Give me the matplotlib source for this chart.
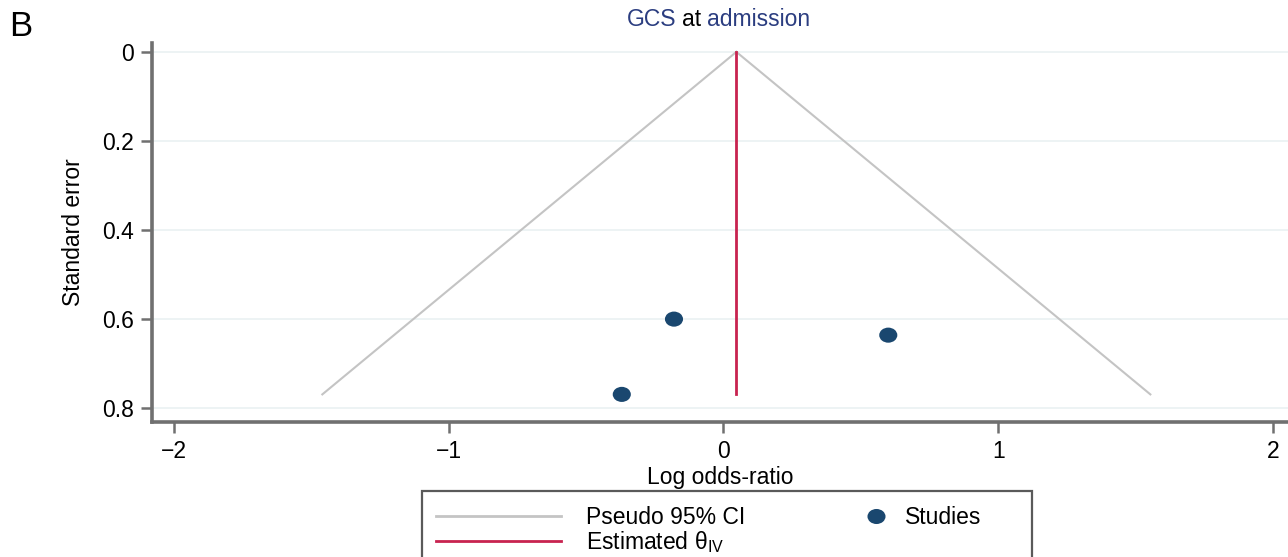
import matplotlib
matplotlib.use("Agg")
import matplotlib.pyplot as plt
from matplotlib.path import Path
from matplotlib.transforms import Affine2D
from matplotlib.lines import Line2D
from matplotlib.patches import Rectangle
from matplotlib.legend_handler import HandlerLine2D

plt.rcParams['font.family'] = ['Liberation Sans', 'DejaVu Sans']

# studies (log odds-ratio, standard error)
study_lor = [-0.18, 0.60, -0.37]
study_se = [0.600, 0.636, 0.769]

# pooled estimate and pseudo 95% CI funnel
theta_iv = 0.047
se_max = 0.769
ci_left = [-1.46, 0.047]
ci_right = [1.554, 0.047]
ci_se = [0.769, 0.0]

xticks = [-2, -1, 0, 1, 2]
yticks = [0, 0.2, 0.4, 0.6, 0.8]

navy = '#1a476f'
red = '#c8234f'
gray = '#c4c4c4'
spine = '#707070'
fs = 16.5


class RightMarkerHandler(HandlerLine2D):
    # put the marker near the right end of the handle, next to its label
    def get_xdata(self, legend, xdescent, ydescent, width, height, fontsize):
        xm = -xdescent + width - 0.18 * fontsize
        return [xm, xm], [xm]


fig = plt.figure(figsize=(12.88, 5.57), dpi=100)
ax = fig.add_axes([152/1288, 1 - 422/557, (1288 - 152)/1288, (422 - 43)/557])

for y in yticks:
    ax.axhline(y, color='#eaf1f2', lw=1.2, zorder=0)

ax.plot(ci_left, ci_se, color=gray, lw=1.5, zorder=2)
ax.plot(ci_right, ci_se, color=gray, lw=1.5, zorder=2)
ax.plot([theta_iv, theta_iv], [0, se_max], color=red, lw=2, zorder=3)

ellipse = Path.unit_circle().transformed(Affine2D().scale(1.2, 1.0))
ax.scatter(study_lor, study_se, marker=ellipse, s=170, color=navy,
           edgecolors='none', zorder=4)

ax.set_xlim(-2.08, 2.055)
ax.set_ylim(0.831, -0.02)
ax.set_xticks(xticks)
ax.set_yticks(yticks)
ax.set_xticklabels(['\u22122', '\u22121', '0', '1', '2'])
ax.set_yticklabels(['0', '0.2', '0.4', '0.6', '0.8'])

for s in ['top', 'right']:
    ax.spines[s].set_visible(False)
for s in ['left', 'bottom']:
    ax.spines[s].set_color(spine)
    ax.spines[s].set_linewidth(2.6)
ax.tick_params(axis='both', length=8, width=1.8, color=spine,
               labelsize=fs, pad=5)

ax.set_xlabel('Log odds-ratio', fontsize=fs, labelpad=2)
ax.set_ylabel('Standard error', fontsize=fs, labelpad=12)

# title with coloured words
ty = 1 - 20/557
fig.text(676/1288, ty, 'GCS', color='#2b3d80', fontsize=fs,
         ha='right', va='center')
fig.text(692/1288, ty, 'at', color='black', fontsize=fs,
         ha='center', va='center')
fig.text(707/1288, ty, 'admission', color='#2b3d80', fontsize=fs,
         ha='left', va='center')

fig.text(21/1288, 1 - 26/557, 'B', fontsize=25, ha='center', va='center')

handles = [
    Line2D([], [], color=gray, lw=2),
    Line2D([], [], color=red, lw=2),
    Line2D([], [], marker=ellipse, color=navy, lw=0, markersize=13,
           markeredgewidth=0),
]
labels = ['Pseudo 95% CI', r'Estimated $\mathregular{\theta_{IV}}$', 'Studies']
leg = fig.legend(handles, labels, ncol=2, loc='upper left',
                 bbox_to_anchor=(425/1288, 1 - 495/557),
                 frameon=False, fontsize=fs, handlelength=5.45,
                 handletextpad=1.09, borderpad=0, labelspacing=0.0,
                 columnspacing=0.4,
                 handler_map={handles[2]: RightMarkerHandler(numpoints=1)})

fig.add_artist(Rectangle((422/1288, 1 - 580/557), (1032 - 422)/1288,
                         (580 - 491)/557, transform=fig.transFigure,
                         fill=False, ec='#5a5a5a', lw=1.6))

fig.savefig('out.png', dpi=100)
